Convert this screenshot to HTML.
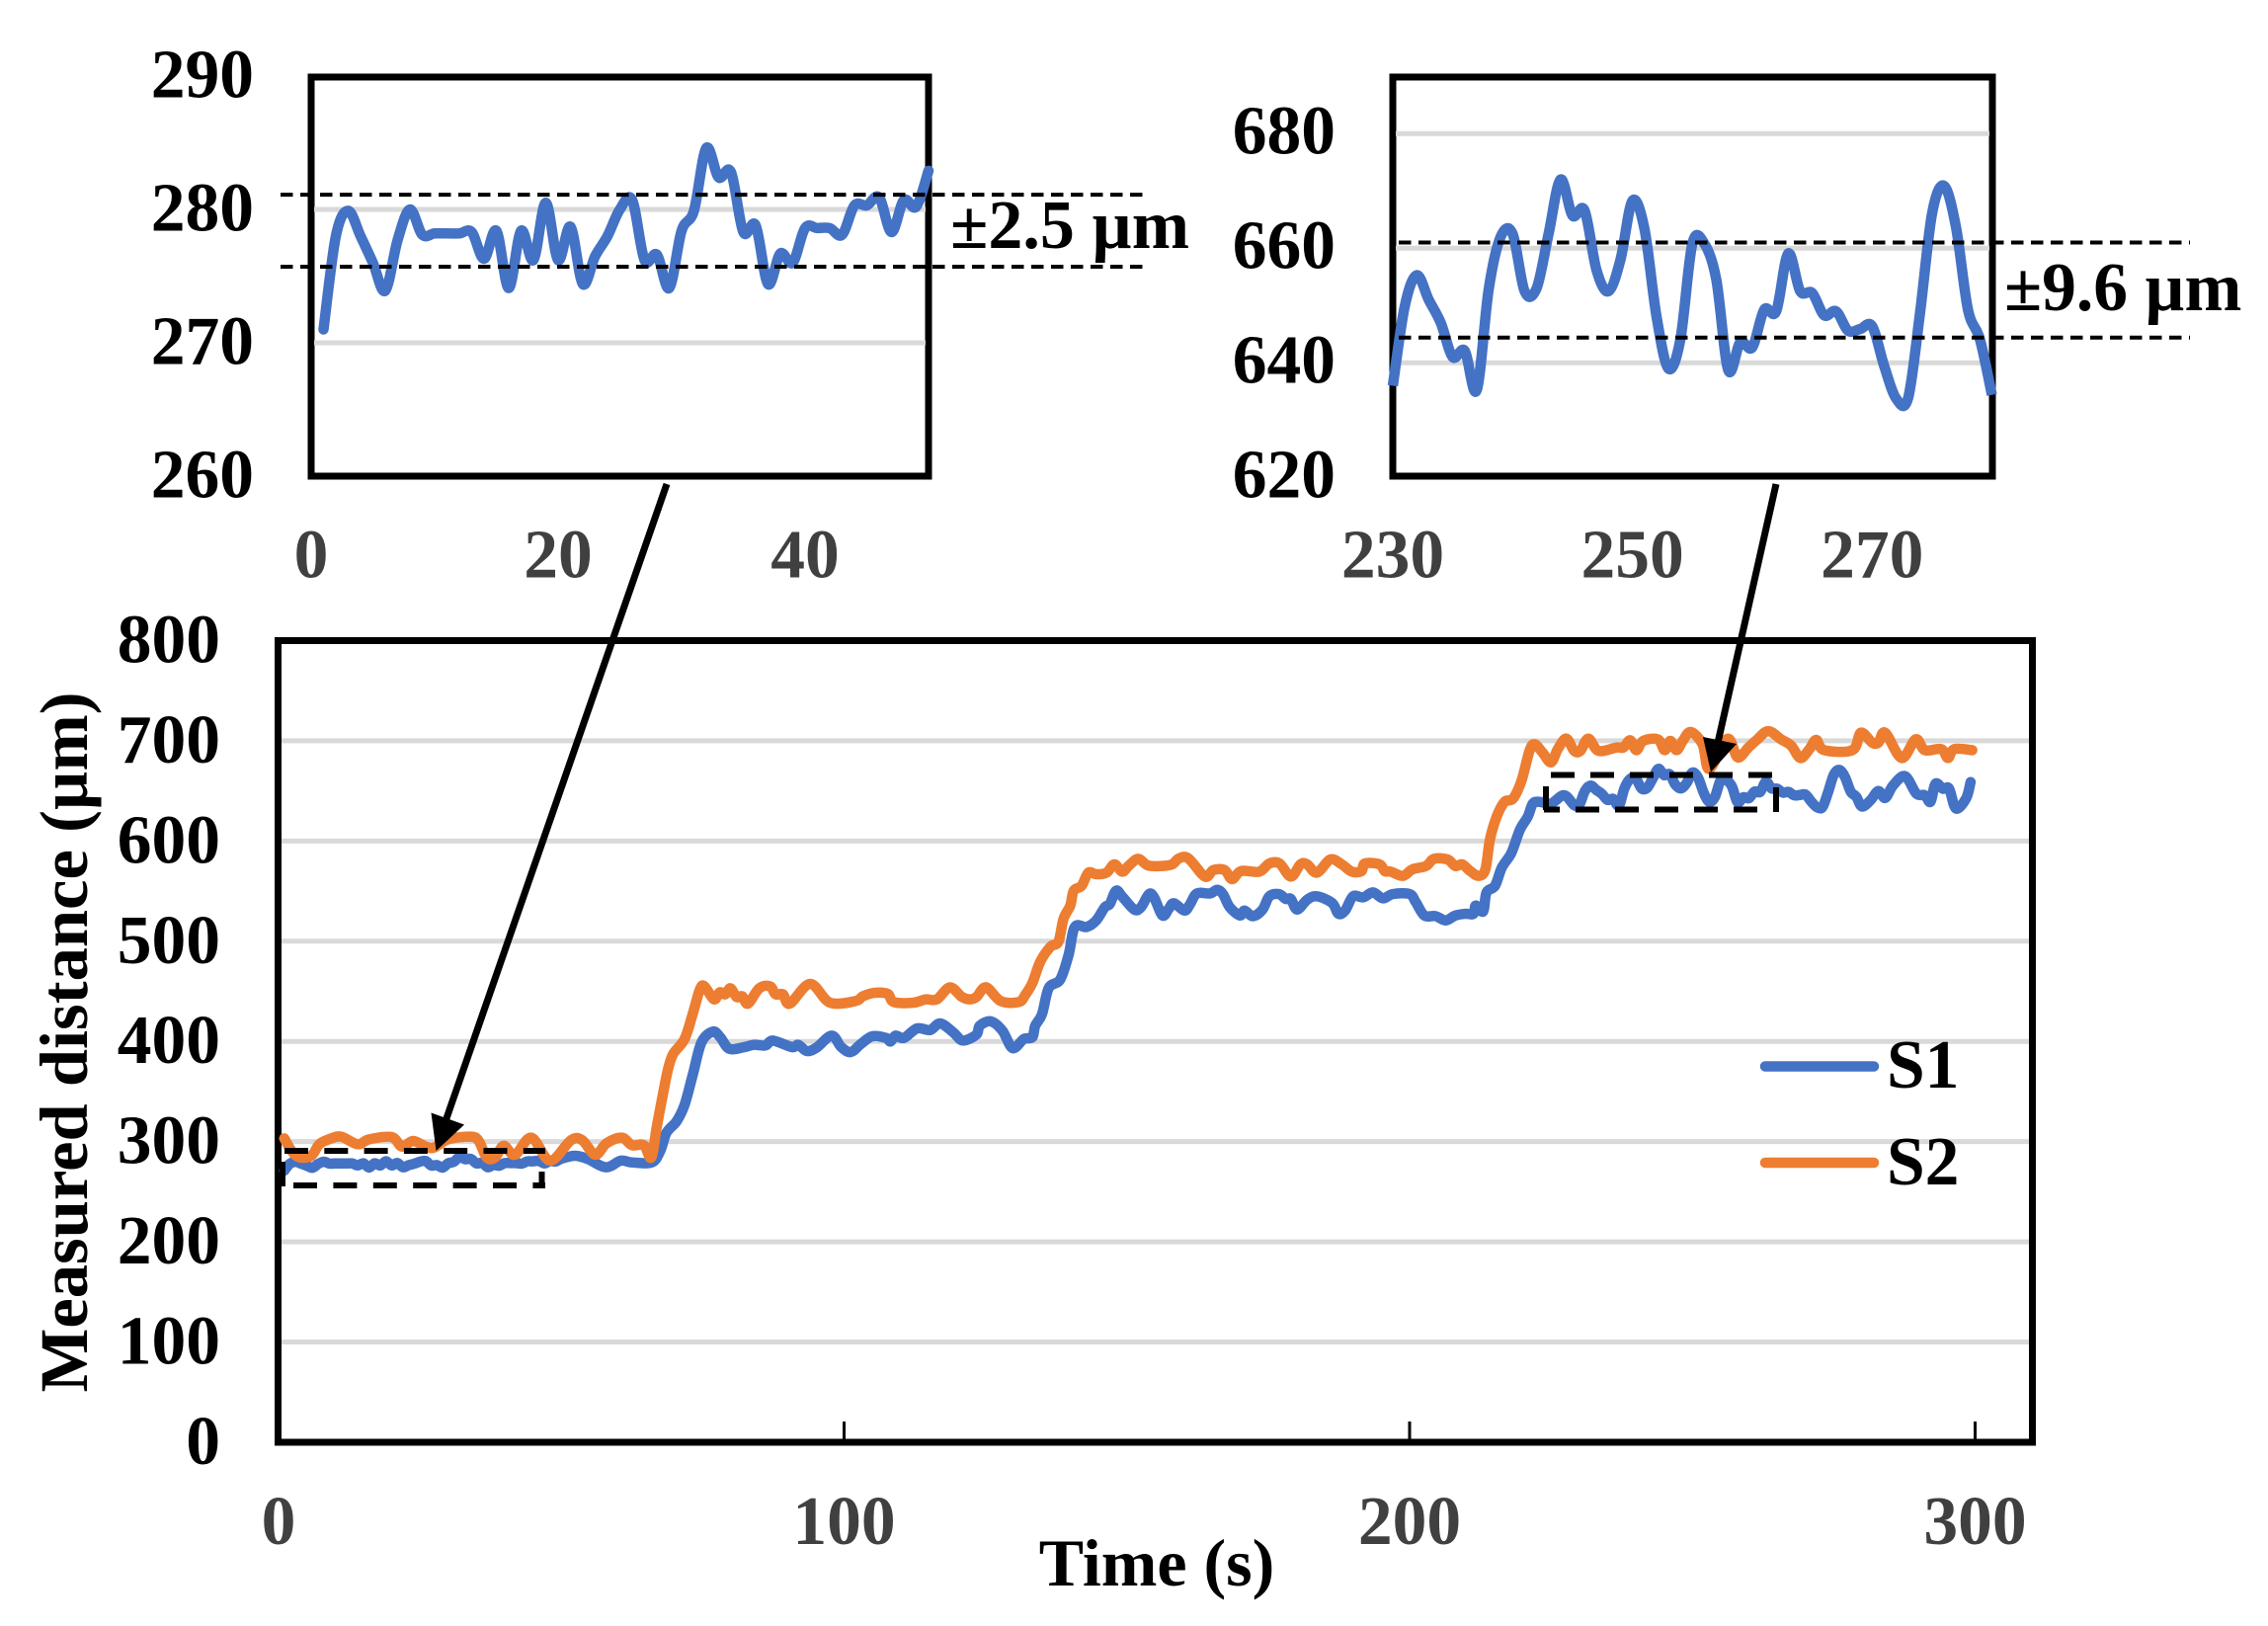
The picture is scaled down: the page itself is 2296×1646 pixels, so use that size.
<!DOCTYPE html>
<html lang="en">
<head>
<meta charset="utf-8">
<title>Measured distance over time</title>
<style>
  html, body { margin: 0; padding: 0; background: #ffffff; }
  svg { display: block; }
  text { font-family: "Liberation Serif", serif; font-weight: bold; font-size: 69.5px; }
</style>
</head>
<body>
<svg id="chart" xmlns="http://www.w3.org/2000/svg" width="2296" height="1646" viewBox="0 0 2296 1646">
  <rect x="0" y="0" width="2296" height="1646" fill="#ffffff"/>
  <g id="layer-main"></g>
  <g id="layer-inset1"></g>
  <g id="layer-inset2"></g>

  <g fill="none" stroke="#000" stroke-width="6">
    <line x1="288" y1="1165" x2="552" y2="1165" stroke-dasharray="24 16.3"/>
    <line x1="297" y1="1200" x2="552" y2="1200" stroke-dasharray="24 16.4"/>
    <line x1="548.5" y1="1186" x2="548.5" y2="1203"/>
    <line x1="286" y1="1176" x2="286" y2="1201"/>
  </g>
  <g fill="none" stroke="#000" stroke-width="6">
    <line x1="1570" y1="784.5" x2="1795" y2="784.5" stroke-dasharray="24 16"/>
    <line x1="1563" y1="819.5" x2="1780" y2="819.5" stroke-dasharray="24 16" stroke-dashoffset="8"/>
    <line x1="1565" y1="796" x2="1565" y2="820"/>
    <line x1="1798" y1="797" x2="1798" y2="822"/>
  </g>

  <g>
    <line x1="675" y1="490" x2="451" y2="1135" stroke="#000" stroke-width="7"/>
    <polygon points="441.5,1165 436.5,1126.5 470,1138.5" fill="#000"/>
  </g>
  <g>
    <line x1="1798" y1="490" x2="1739" y2="752" stroke="#000" stroke-width="7"/>
    <polygon points="1732,781.5 1724,746 1758,753" fill="#000"/>
  </g>

  <g>
    <g>
      <line x1="1787" y1="1079.5" x2="1897" y2="1079.5" stroke="#4472c4" stroke-width="10.5" stroke-linecap="round"/>
      <text x="1910" y="1101" fill="#000">S1</text>
    </g>
    <g>
      <line x1="1787" y1="1177" x2="1897" y2="1177" stroke="#ed7d31" stroke-width="10.5" stroke-linecap="round"/>
      <text x="1910" y="1199" fill="#000">S2</text>
    </g>
  </g>

  <text x="1171" y="1605" text-anchor="middle" fill="#000" style="font-size:68px">Time (s)</text>
  <text x="88" y="1055" text-anchor="middle" transform="rotate(-90 88 1055)" fill="#000" style="font-size:68.6px">Measured distance (µm)</text>
  <text x="962" y="251" fill="#000" style="font-size:70px">±2.5 µm</text>
  <text x="2029" y="314" fill="#000">±9.6 µm</text>
</svg>

<script>
// ---------- main chart data ----------
const mainXTicks = [0, 100, 200, 300];
const mainYTicks = [0, 100, 200, 300, 400, 500, 600, 700, 800];

const s1Times = [1,2,3,4,5,6,7,8,9,10,11,12,13,14,15,16,17,18,19,20,21,22,23,24,25,26,27,28,29,30,31,32,33,34,35,36,37,38,39,40,41,42,43,44,45,46,47,48,49,50,
  52.4,54.7,57.9,60.5,62.5,66,67.5,68.6,70.4,71.8,73.3,74.8,76.8,78.1,79.7,82.3,84,86.1,87.4,90.8,91.9,93.4,95.1,97.8,99.5,101.2,103,105,107.4,108.2,109.1,110.6,112.9,115.2,117,119.3,121,123.4,124,126,128,129.8,131.8,133.3,133.8,135,
  136.2,138.2,139.7,140.8,142.9,144.6,146.1,147,148.1,149.3,151.3,152.5,153.9,154.8,156.3,157.4,158.3,160.2,161.2,162.4,164.7,166,167,168.2,170,170.8,172.3,174,175.2,176.9,178.1,179,180.1,181.9,183.6,186.3,187.4,188.6,190,191.8,193.5,195.3,197,
  200,201.1,202.6,204.6,206.4,208.1,209.9,211.3,211.7,213,213.6,215.1,216.3,218,219.5,220.9,221.8,223,225,227.3,229.1,
  230,231,232,233,234,235,236,237,238,239,240,241,242,243,244,245,246,247,248,249,250,251,252,253,254,255,256,257,258,259,260,261,262,263,264,265,266,267,268,269,270,271,272,273,274,275,276,277,278,279,280,
  281.5,282.9,284.1,285.5,287.6,289.6,291.1,292.1,293,294.3,295.4,296.6,298.4,299.2];
const s1Values = [271,278,279.9,278,276,273.9,277.7,280,278.1,278.2,278.2,278.2,278.3,276.3,278.4,274.1,278.4,276.2,280.5,276.2,278.7,274.4,276.5,278,280,280.7,276.2,276.6,274.1,278.4,279.9,284.6,282.4,282.8,278.3,278.8,274.4,276.7,276,278.6,278.6,278.6,278.1,280.3,280.3,280.9,278.3,280.7,280.2,282.9,
  285.9,282.6,274.4,281,279.3,279.3,290.8,308.9,320.4,336.8,368,399.2,409.8,404.2,392.7,394.3,396.6,396,400.9,394.3,396.6,390.4,393.7,405.8,394.3,389.4,397.6,405.2,403.5,399.9,405.8,403.5,413,411.4,418,409.1,400.9,406.8,415.7,420,410.7,393.3,402.5,404.2,415.7,427.2,
  453.4,461.6,486.3,514.2,514.2,520.8,533.9,537.2,550.4,543.8,531.6,533.9,547,543.8,525.7,532.3,537.9,530.6,537.2,547.7,547.7,551.3,547,533.9,525.7,530.6,525,531.6,544.8,547,542.2,542.2,531.6,541.5,544.8,538.2,527.4,530.6,544.8,543.8,548.7,542.8,547,
  547.1,538.9,525.7,525,520.8,525.7,527.4,527.4,535.6,529.7,548.7,555.3,573.4,588.2,611.2,624.3,637.4,639.1,637.4,645.7,635.8,
  636,649.9,655.3,651,647,641,642.1,635.2,652.8,662,662.5,652.5,653,662.5,672,665.7,666.6,656.2,652.5,658,668.3,663.4,648.2,639,644.1,660.8,660.8,654.5,638.7,643.6,642.7,649.3,649,659.1,652.5,652.2,648.3,649,645.6,645.9,646.4,639.5,633.8,633.8,648.7,666,670.9,663.7,649.3,644.1,634.4,
  640.7,649.9,643,655.5,664.7,647.3,645.7,639.1,657.2,652.2,652.2,632.5,642.4,658.8];

const s2Times = [1,2.3,3.7,5.8,7.2,8.9,11,14,16,20,21.8,23.8,26,27.5,30,34,35.4,36.8,38.3,39.8,41.8,44.7,48,51.7,53.7,56,58,60.7,62.5,64.6,65.9,66.9,68,68.9,69.8,71.8,73.3,74.5,75.3,77,78,79,79.9,81,82,83,85,86.9,87.9,89.2,90.4,94,97.5,102,103.3,105.3,107.7,108.8,112.3,114.4,116.4,118.7,120.8,122.2,123.4,125.1,127.7,130.9,132.1,
  133.3,134.7,136.5,137.9,138.8,140,140.6,142,143.2,144.6,146.4,147.8,149.2,150.4,152,153.7,156,158,159.2,160.9,163.8,165.3,167.3,168.6,170.2,173.4,175.2,177,179,180.7,181.9,183.6,186,188,189.8,191.5,192.1,194.7,195.6,196.7,
  198.8,200.5,202.9,204.3,206.7,208.1,209.3,210.7,212.2,213.4,214.2,215.4,216.8,218.3,219.8,221.2,222.1,223.5,225,226.2,227.7,229.1,230.2,231.6,233.4,236.6,237.8,239,240.1,241.3,243.9,245.1,246.1,247.2,248.3,249.7,251.8,253,256.2,258,259.9,261.4,263.4,265.7,267.5,269.1,270.7,271.9,273.3,278.3,279.8,281.8,282.9,284.1,287,289.5,291.1,294,295.2,296.3,299.5];
const s2Values = [303.3,290.8,284.3,286,297.4,302.3,305,297.4,302.3,304.6,295.1,300.7,295.1,294.1,302.3,305,300.7,284.3,284.3,295.8,286.9,304,281,301.4,301.4,286.9,298.4,304,296.4,296.4,284.2,315.5,348.3,373,387.7,402.5,428.8,451.8,455,442,449,447,453,444.3,445,437.7,453,455,447,447,437.7,457.4,438.7,440.3,445,448.5,447.5,439.3,438.7,442,442,454,444.6,442,444.3,454,440.3,439.3,447,
  458.4,479.7,494.5,499.4,522.4,535.6,550.4,555.3,568.4,566.8,568.4,576.7,569.4,575.7,582.2,575.7,575,576.7,582.6,582.6,564.5,571,571,561.9,570,569.4,577.6,577.6,564.5,576.7,576.7,568.4,581.6,576.7,569.4,570,577.6,576.7,570,569.4,
  565.2,571.7,575,582.2,581.6,575,576.7,570.1,565.2,571.7,601.3,624.3,639.1,642.4,660.4,690,696.6,688.4,678.5,691.7,702.2,690,690,702.2,690,693.3,693.3,700.5,690.7,699.9,701.5,690.7,699.9,690.7,699.9,708.8,696.6,672,702,683.5,693.3,700.9,709.7,701.5,695,682.8,691.7,700.9,690.7,690.7,708.1,698.2,698.2,708.1,682.8,701.5,690.7,691.7,682.8,691.7,690.7];

// ---------- inset 1 data (first plateau of S1) ----------
const inset1XTicks = [0, 20, 40];
const inset1YTicks = [260, 270, 280, 290];
const inset1Grid = [270, 280];
const inset1Band = [275.7, 281.1];
const inset1Times = [1,2,3,4,5,6,7,8,9,10,11,12,13,14,15,16,17,18,19,20,21,22,23,24,25,26,27,28,29,30,31,32,33,34,35,36,37,38,39,40,41,42,43,44,45,46,47,48,49,50];
const inset1Values = [271,278,279.9,278,276,273.9,277.7,280,278.1,278.2,278.2,278.2,278.3,276.3,278.4,274.1,278.4,276.2,280.5,276.2,278.7,274.4,276.5,278,280,280.7,276.2,276.6,274.1,278.4,279.9,284.6,282.4,282.8,278.3,278.8,274.4,276.7,276,278.6,278.6,278.6,278.1,280.3,280.3,280.9,278.3,280.7,280.2,282.9];

// ---------- inset 2 data (last plateau of S1) ----------
const inset2XTicks = [230, 250, 270];
const inset2YTicks = [620, 640, 660, 680];
const inset2Grid = [640, 660, 680];
const inset2Band = [644.4, 661];
const inset2Times = [230,231,232,233,234,235,236,237,238,239,240,241,242,243,244,245,246,247,248,249,250,251,252,253,254,255,256,257,258,259,260,261,262,263,264,265,266,267,268,269,270,271,272,273,274,275,276,277,278,279,280];
const inset2Values = [636,649.9,655.3,651,647,641,642.1,635.2,652.8,662,662.5,652.5,653,662.5,672,665.7,666.6,656.2,652.5,658,668.3,663.4,648.2,639,644.1,660.8,660.8,654.5,638.7,643.6,642.7,649.3,649,659.1,652.5,652.2,648.3,649,645.6,645.9,646.4,639.5,633.8,633.8,648.7,666,670.9,663.7,649.3,644.1,634.4];

// ---------- axis functions ----------
const mainX = t => 282 + 5.725 * t;
const mainY = v => 1460 - 1.0144 * v;
const inset1X = t => 315 + 12.5 * t;
const inset1Y = v => 482 - 13.5 * (v - 260);
const inset2X = t => 1410 + 12.13 * (t - 230);
const inset2Y = v => 483.3 - 5.8 * (v - 620);

const SVGNS = 'http://www.w3.org/2000/svg';
function make(parent, tag, attrs, content) {
  const node = document.createElementNS(SVGNS, tag);
  for (const key in attrs) node.setAttribute(key, attrs[key]);
  if (content !== undefined) node.textContent = content;
  parent.appendChild(node);
  return node;
}

function smoothPath(times, values, xf, yf) {
  const px = times.map(xf);
  const py = values.map(yf);
  let d = 'M' + px[0].toFixed(2) + ' ' + py[0].toFixed(2);
  for (let i = 0; i < px.length - 1; i++) {
    const a = Math.max(i - 1, 0);
    const b = Math.min(i + 2, px.length - 1);
    const c1x = px[i] + (px[i + 1] - px[a]) / 6;
    const c1y = py[i] + (py[i + 1] - py[a]) / 6;
    const c2x = px[i + 1] - (px[b] - px[i]) / 6;
    const c2y = py[i + 1] - (py[b] - py[i]) / 6;
    d += 'C' + c1x.toFixed(2) + ' ' + c1y.toFixed(2) + ' ' + c2x.toFixed(2) + ' ' + c2y.toFixed(2) + ' ' + px[i + 1].toFixed(2) + ' ' + py[i + 1].toFixed(2);
  }
  return d;
}

const BLUE = '#4472c4';
const ORANGE = '#ed7d31';
const GRID = '#d9d9d9';

// ---------- main chart ----------
const mainLayer = document.getElementById('layer-main');
mainYTicks.forEach(v => {
  if (v === 0 || v === 800) return;
  const grid = make(mainLayer, 'line', { x1: 285, x2: 2054, y1: mainY(v), y2: mainY(v), stroke: GRID, 'stroke-width': 5 });
  
  
});
const mainFrame = make(mainLayer, 'rect', { x: 281.5, y: 648.5, width: 1776, height: 811.5, fill: 'none', stroke: '#000', 'stroke-width': 7 });


mainXTicks.forEach(t => {
  if (t !== 0) {
    const tick = make(mainLayer, 'line', { x1: mainX(t), x2: mainX(t), y1: 1439, y2: 1458, stroke: '#000', 'stroke-width': 3 });
    
    
  }
  const label = make(mainLayer, 'text', { x: mainX(t), y: 1563, 'text-anchor': 'middle', fill: '#404040' }, String(t));
  
  
});
mainYTicks.forEach(v => {
  const label = make(mainLayer, 'text', { x: 223, y: mainY(v) + 22, 'text-anchor': 'end', fill: '#000' }, String(v));
  
  
});
const s2Line = make(mainLayer, 'path', { d: smoothPath(s2Times, s2Values, mainX, mainY), fill: 'none', stroke: ORANGE, 'stroke-width': 10.5, 'stroke-linecap': 'round', 'stroke-linejoin': 'round' });


const s1Line = make(mainLayer, 'path', { d: smoothPath(s1Times, s1Values, mainX, mainY), fill: 'none', stroke: BLUE, 'stroke-width': 10.5, 'stroke-linecap': 'round', 'stroke-linejoin': 'round' });


// S2 is drawn above S1 where the two meet at the first step
mainLayer.appendChild(s2Line);

// ---------- inset 1 ----------
const inset1Layer = document.getElementById('layer-inset1');
const inset1Frame = make(inset1Layer, 'rect', { x: 315, y: 78, width: 625, height: 404, fill: '#fff', stroke: '#000', 'stroke-width': 7 });


inset1Grid.forEach(v => {
  const grid = make(inset1Layer, 'line', { x1: 318, x2: 937, y1: inset1Y(v), y2: inset1Y(v), stroke: GRID, 'stroke-width': 5 });
  
  
});
inset1YTicks.forEach(v => {
  const label = make(inset1Layer, 'text', { x: 257, y: inset1Y(v) + 21.5, 'text-anchor': 'end', fill: '#000' }, String(v));
  
  
});
inset1XTicks.forEach(t => {
  const label = make(inset1Layer, 'text', { x: inset1X(t), y: 584.5, 'text-anchor': 'middle', fill: '#404040' }, String(t));
  
  
});
const inset1Line = make(inset1Layer, 'path', { d: smoothPath(inset1Times, inset1Values, inset1X, inset1Y), fill: 'none', stroke: BLUE, 'stroke-width': 10.5, 'stroke-linecap': 'round', 'stroke-linejoin': 'round' });


inset1Band.forEach(v => {
  const band = make(inset1Layer, 'line', { x1: 284, x2: 1158, y1: inset1Y(v), y2: inset1Y(v), stroke: '#000', 'stroke-width': 4, 'stroke-dasharray': '12.5 7.5' });
  
  
});

// ---------- inset 2 ----------
const inset2Layer = document.getElementById('layer-inset2');
const inset2Frame = make(inset2Layer, 'rect', { x: 1410, y: 78, width: 607, height: 404, fill: '#fff', stroke: '#000', 'stroke-width': 7 });


inset2Grid.forEach(v => {
  const grid = make(inset2Layer, 'line', { x1: 1413, x2: 2014, y1: inset2Y(v), y2: inset2Y(v), stroke: GRID, 'stroke-width': 5 });
  
  
});
inset2YTicks.forEach(v => {
  const label = make(inset2Layer, 'text', { x: 1352, y: inset2Y(v) + 20, 'text-anchor': 'end', fill: '#000' }, String(v));
  
  
});
inset2XTicks.forEach(t => {
  const label = make(inset2Layer, 'text', { x: inset2X(t), y: 584.5, 'text-anchor': 'middle', fill: '#404040' }, String(t));
  
  
});
const inset2Line = make(inset2Layer, 'path', { d: smoothPath(inset2Times, inset2Values, inset2X, inset2Y), fill: 'none', stroke: BLUE, 'stroke-width': 10.5, 'stroke-linejoin': 'round' });


inset2Band.forEach(v => {
  const band = make(inset2Layer, 'line', { x1: 1416, x2: 2217, y1: inset2Y(v), y2: inset2Y(v), stroke: '#000', 'stroke-width': 4, 'stroke-dasharray': '12.5 7.5' });
  
  
});
</script>
</body>
</html>
